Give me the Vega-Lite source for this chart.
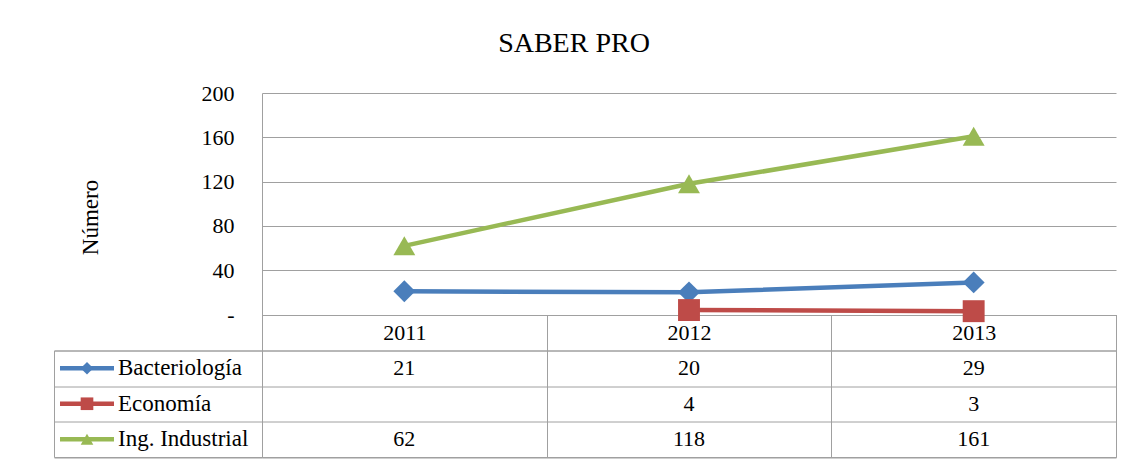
{
  "$schema": "https://vega.github.io/schema/vega-lite/v6.json",
  "padding": {"left": 53, "top": 30, "right": 20, "bottom": 5},
  "title": {"text": "SABER PRO", "fontSize": 28, "fontWeight": "normal", "color": "black", "anchor": "middle", "dx": -11, "offset": 24},
  "config": {"font": "Liberation Serif", "view": {"stroke": null}},
  "datasets": {
    "main": [
      {"serie": "Bacteriología", "year": "2011", "value": 21},
      {"serie": "Bacteriología", "year": "2012", "value": 20},
      {"serie": "Bacteriología", "year": "2013", "value": 29},
      {"serie": "Economía", "year": "2012", "value": 4},
      {"serie": "Economía", "year": "2013", "value": 3},
      {"serie": "Ing. Industrial", "year": "2011", "value": 62},
      {"serie": "Ing. Industrial", "year": "2012", "value": 118},
      {"serie": "Ing. Industrial", "year": "2013", "value": 161}
    ],
    "series": [
      {"serie": "Bacteriología"},
      {"serie": "Economía"},
      {"serie": "Ing. Industrial"}
    ]
  },
  "columns": 2,
  "spacing": {"row": 35.5, "column": 0},
  "bounds": "flush",
  "align": "each",
  "concat": [
    {
      "width": 208,
      "height": 221.5,
      "data": {"values": []},
      "mark": {"type": "point", "opacity": 0}
    },
    {
      "width": 854,
      "height": 221.5,
      "data": {"name": "main"},
      "encoding": {
        "x": {
          "field": "year", "type": "ordinal", "bandPosition": 0.5,
          "scale": {"type": "band", "paddingInner": 0, "paddingOuter": 0},
          "axis": {"title": null, "domain": false, "grid": false, "tickBand": "extent", "tickSize": 36, "tickColor": "#a0a0a0", "tickWidth": 1, "labelAngle": 0, "labelFontSize": 22, "labelColor": "black", "labelPadding": -18, "labelBaseline": "middle"}
        },
        "y": {
          "field": "value", "type": "quantitative",
          "scale": {"domain": [0, 200]},
          "axis": {"values": [0, 40, 80, 120, 160, 200], "title": "Número", "titleFontSize": 23, "titleFontWeight": "normal", "titleColor": "black", "titleX": -172, "titleY": 124, "titleAngle": -90, "titleAlign": "center", "titleBaseline": "middle", "labelFontSize": 22, "labelColor": "black", "labelPadding": 28, "ticks": false, "domain": true, "domainColor": "#a0a0a0", "grid": true, "gridColor": "#a0a0a0", "gridOpacity": 1, "labelExpr": "datum.value == 0 ? '-\u00a0\u00a0' : datum.label"}
        },
        "color": {
          "field": "serie", "type": "nominal", "legend": null,
          "scale": {"domain": ["Bacteriología", "Economía", "Ing. Industrial"], "range": ["#4a7ebb", "#be4b48", "#98b954"]}
        }
      },
      "layer": [
        {"mark": {"type": "line", "strokeWidth": 4.5}},
        {
          "mark": {"type": "point", "filled": true, "opacity": 1, "size": 480},
          "encoding": {
            "shape": {"field": "serie", "type": "nominal", "legend": null,
              "scale": {"domain": ["Bacteriología", "Economía", "Ing. Industrial"], "range": ["diamond", "square", "triangle-up"]}}
          }
        }
      ]
    },
    {
      "width": 208,
      "height": 106.5,
      "view": {"stroke": "#a0a0a0"},
      "data": {"name": "series"},
      "encoding": {
        "y": {
          "field": "serie", "type": "nominal",
          "scale": {"domain": ["Bacteriología", "Economía", "Ing. Industrial"], "paddingInner": 0, "paddingOuter": 0},
          "axis": {"title": null, "labels": false, "ticks": false, "domain": false, "grid": true, "tickBand": "extent", "gridColor": "#a0a0a0", "gridOpacity": 1}
        },
        "color": {
          "field": "serie", "type": "nominal", "legend": null,
          "scale": {"domain": ["Bacteriología", "Economía", "Ing. Industrial"], "range": ["#4a7ebb", "#be4b48", "#98b954"]}
        }
      },
      "layer": [
        {
          "mark": {"type": "rule", "strokeWidth": 4.5},
          "encoding": {
            "x": {"datum": 6, "type": "quantitative", "scale": {"domain": [0, 208]}, "axis": null},
            "x2": {"datum": 60}
          }
        },
        {
          "mark": {"type": "point", "filled": true, "opacity": 1, "size": 160},
          "encoding": {
            "x": {"datum": 33, "type": "quantitative", "scale": {"domain": [0, 208]}, "axis": null},
            "shape": {"field": "serie", "type": "nominal", "legend": null,
              "scale": {"domain": ["Bacteriología", "Economía", "Ing. Industrial"], "range": ["diamond", "square", "triangle-up"]}}
          }
        },
        {
          "mark": {"type": "text", "align": "left", "baseline": "middle", "fontSize": 23, "color": "black"},
          "encoding": {
            "x": {"datum": 64, "type": "quantitative", "scale": {"domain": [0, 208]}, "axis": null},
            "text": {"field": "serie"},
            "color": {"value": "black"}
          }
        }
      ]
    },
    {
      "width": 854,
      "height": 106.5,
      "view": {"stroke": "#a0a0a0"},
      "data": {"name": "main"},
      "mark": {"type": "text", "align": "center", "baseline": "middle", "fontSize": 22, "color": "black"},
      "encoding": {
        "x": {
          "field": "year", "type": "ordinal",
          "scale": {"type": "band", "domain": ["2011", "2012", "2013"], "paddingInner": 0, "paddingOuter": 0},
          "axis": {"title": null, "labels": false, "ticks": false, "domain": false, "grid": true, "tickBand": "extent", "gridColor": "#a0a0a0", "gridOpacity": 1}
        },
        "y": {
          "field": "serie", "type": "nominal",
          "scale": {"domain": ["Bacteriología", "Economía", "Ing. Industrial"], "paddingInner": 0, "paddingOuter": 0},
          "axis": {"title": null, "labels": false, "ticks": false, "domain": false, "grid": true, "tickBand": "extent", "gridColor": "#a0a0a0", "gridOpacity": 1}
        },
        "text": {"field": "value", "type": "quantitative"}
      }
    }
  ]
}
